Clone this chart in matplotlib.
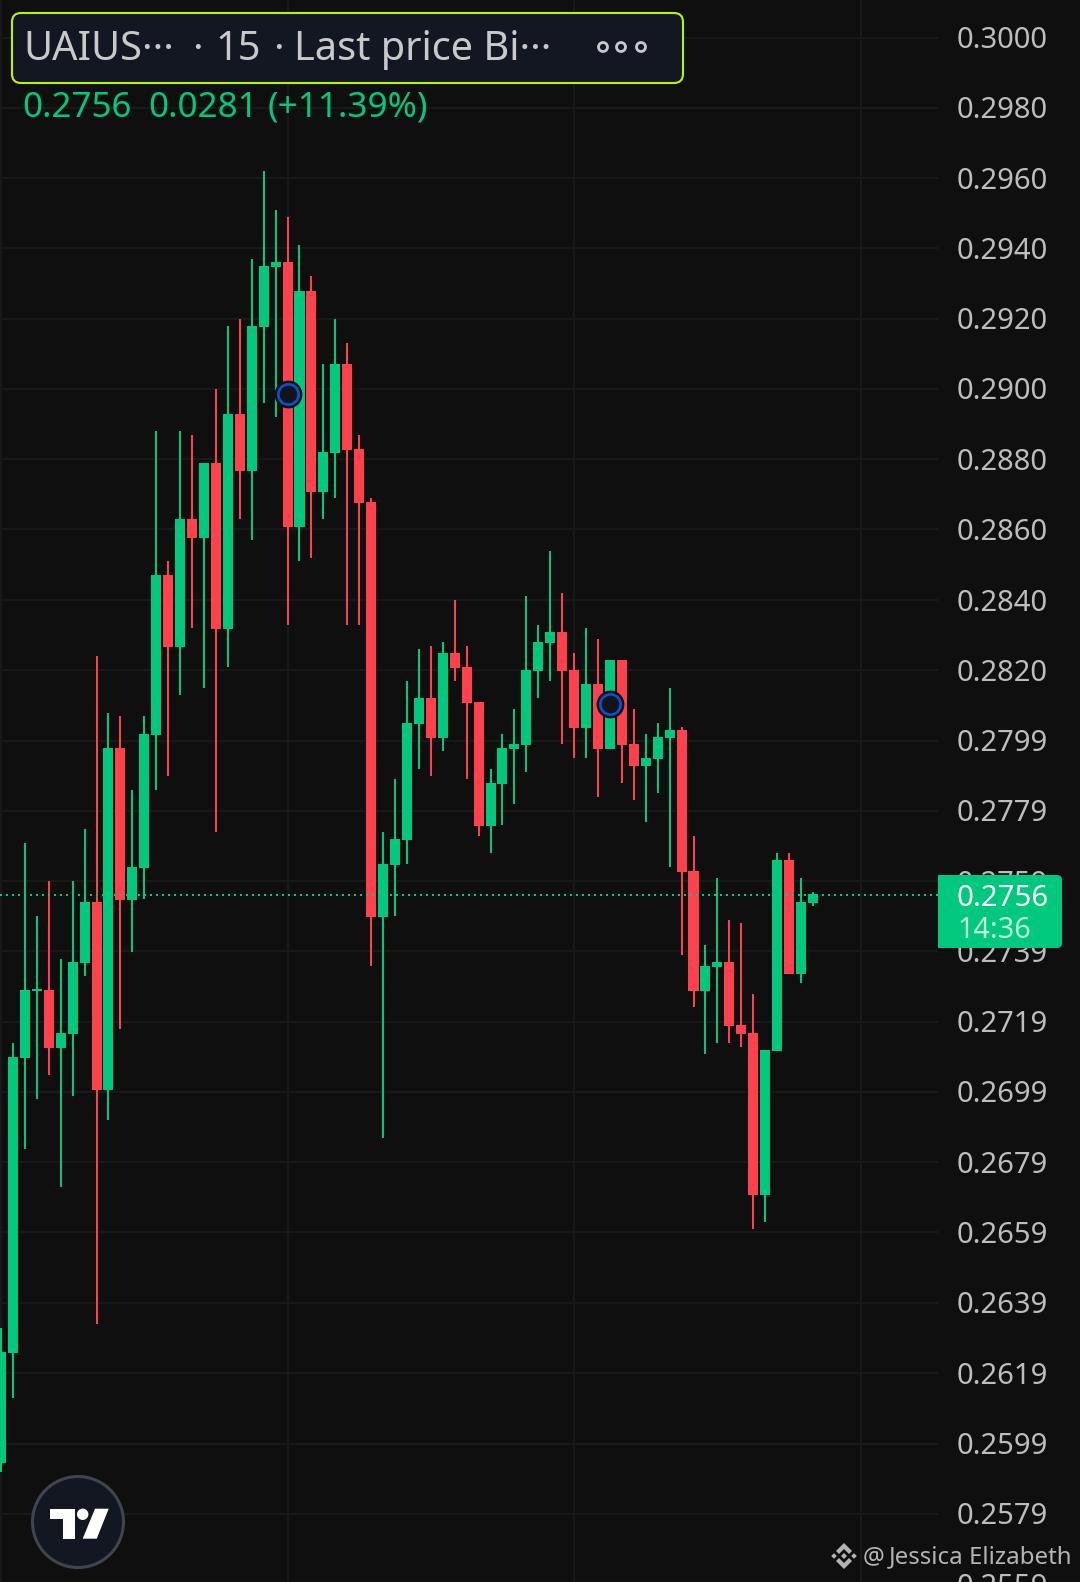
import matplotlib
matplotlib.use("Agg")
import matplotlib.pyplot as plt
import numpy as np
from matplotlib.patches import Circle, FancyBboxPatch, Polygon, Rectangle

plt.rcParams["font.family"] = ["Noto Sans", "DejaVu Sans"]

# candles, oldest first
opens = [0.25935, 0.26248, 0.27090, 0.27281, 0.27284, 0.27118, 0.27158, 0.27361, 0.27535, 0.26998,
         0.27974, 0.27540, 0.27632, 0.28011, 0.28467, 0.28262, 0.28627, 0.28573, 0.28787, 0.28313,
         0.28927, 0.28764, 0.29175, 0.29346, 0.29360, 0.28604, 0.29277, 0.28704, 0.28815, 0.29069,
         0.28827, 0.28676, 0.27492, 0.27640, 0.27711, 0.28042, 0.28116, 0.28002, 0.28245, 0.28205,
         0.28105, 0.27751, 0.27871, 0.27971, 0.27982, 0.28193, 0.28273, 0.28305, 0.28196, 0.28031,
         0.28156, 0.27971, 0.28225, 0.27985, 0.27922, 0.27943, 0.28002, 0.28025, 0.27623, 0.27281,
         0.27349, 0.27363, 0.27184, 0.27161, 0.26699, 0.27110, 0.27654, 0.27329, 0.27532]
highs = [0.26320, 0.27133, 0.27703, 0.27495, 0.27594, 0.27372, 0.27594, 0.27743, 0.28236, 0.28074,
         0.28065, 0.27854, 0.28065, 0.28878, 0.28507, 0.28878, 0.28867, 0.28787, 0.28998, 0.29177,
         0.29197, 0.29369, 0.29620, 0.29508, 0.29488, 0.29409, 0.29320, 0.29069, 0.29197, 0.29129,
         0.28867, 0.28687, 0.27734, 0.27885, 0.28165, 0.28256, 0.28265, 0.28276, 0.28396, 0.28265,
         0.28105, 0.27914, 0.28014, 0.28085, 0.28407, 0.28325, 0.28536, 0.28416, 0.28245, 0.28316,
         0.28285, 0.28225, 0.28225, 0.28085, 0.28014, 0.28045, 0.28145, 0.28034, 0.27723, 0.27412,
         0.27603, 0.27483, 0.27475, 0.27272, 0.27113, 0.27674, 0.27674, 0.27603, 0.27563]
lows = [0.25909, 0.26120, 0.26830, 0.26973, 0.27041, 0.26722, 0.26981, 0.27324, 0.26331, 0.26913,
        0.27172, 0.27392, 0.27543, 0.27854, 0.27894, 0.28125, 0.28316, 0.28145, 0.27734, 0.28205,
        0.28627, 0.28567, 0.28958, 0.28918, 0.28325, 0.28507, 0.28516, 0.28627, 0.28687, 0.28325,
        0.28325, 0.27352, 0.26862, 0.27495, 0.27643, 0.27914, 0.27894, 0.27965, 0.28165, 0.27885,
        0.27723, 0.27674, 0.27754, 0.27814, 0.27905, 0.28116, 0.28165, 0.27985, 0.27945, 0.27945,
        0.27834, 0.27971, 0.27874, 0.27826, 0.27763, 0.27846, 0.27634, 0.27383, 0.27235, 0.27101,
        0.27133, 0.27133, 0.27121, 0.26602, 0.26622, 0.27110, 0.27329, 0.27304, 0.27523]
closes = [0.26251, 0.27093, 0.27284, 0.27286, 0.27118, 0.27161, 0.27363, 0.27535, 0.26998, 0.27974,
          0.27540, 0.27634, 0.28014, 0.28467, 0.28262, 0.28627, 0.28573, 0.28787, 0.28313, 0.28927,
          0.28764, 0.29177, 0.29349, 0.29360, 0.28604, 0.29277, 0.28704, 0.28818, 0.29069, 0.28824,
          0.28673, 0.27492, 0.27643, 0.27714, 0.28045, 0.28116, 0.28002, 0.28245, 0.28202, 0.28102,
          0.27751, 0.27874, 0.27974, 0.27985, 0.28196, 0.28276, 0.28305, 0.28193, 0.28031, 0.28156,
          0.27971, 0.28225, 0.27982, 0.27922, 0.27945, 0.28005, 0.28025, 0.27620, 0.27281, 0.27352,
          0.27363, 0.27181, 0.27158, 0.26699, 0.27113, 0.27654, 0.27329, 0.27535, 0.27557]

price_ticks = [0.30000, 0.29800, 0.29599, 0.29399, 0.29198, 0.28998, 0.28797, 0.28597, 0.28396, 0.28196,
               0.27995, 0.27795, 0.27594, 0.27394, 0.27193, 0.26993, 0.26792, 0.26592, 0.26391, 0.26191,
               0.25990, 0.25790, 0.25589]
price_labels = ["0.3000", "0.2980", "0.2960", "0.2940", "0.2920", "0.2900", "0.2880", "0.2860", "0.2840", "0.2820",
                "0.2799", "0.2779", "0.2759", "0.2739", "0.2719", "0.2699", "0.2679", "0.2659", "0.2639", "0.2619",
                "0.2599", "0.2579", "0.2559"]
time_grid = [0, 24, 48, 72]
last_price = 0.27555
marker_idx = [24, 51]
marker_price = [0.28984, 0.28099]

BG = "#0f0f0f"
GRID = "#191919"
UP = "#00c87c"
DOWN = "#fe414d"
TEXT = "#bdbdbd"
PANEL = "#131722"

fig = plt.figure(figsize=(10.8, 15.82), dpi=100, facecolor=BG)
ax = fig.add_axes([0, 0, 1, 1], facecolor=BG)
ax.set_xlim(-0.084, 90.37)
ax.set_ylim(0.25595, 0.301072)
ax.axis("off")

opens = np.array(opens)
closes = np.array(closes)
x = np.arange(len(opens))
colors = [UP if c >= o else DOWN for o, c in zip(opens, closes)]

ax.hlines(price_ticks, -0.084, 78.5, color=GRID, lw=1.5, zorder=1)
ax.vlines(time_grid, 0.25595, 0.301072, color=GRID, lw=1.5, zorder=1)

ax.vlines(x, lows, highs, color=colors, lw=1.44, zorder=2)
ax.bar(x, np.abs(closes - opens), bottom=np.minimum(opens, closes), width=0.84, color=colors, linewidth=0, zorder=3)

ax.hlines(last_price, -0.084, 78.5, color=UP, lw=1.44, linestyle=(0, (1, 2)), zorder=4)

ax.plot(marker_idx, marker_price, "o", ms=19, mfc=BG, mec=BG, zorder=5)
ax.plot(marker_idx, marker_price, "o", ms=14.6, mfc="#10141b", mec="#0a50d8", mew=1.9, zorder=6)

for tick, label in zip(price_ticks, price_labels):
    ax.annotate(label, (0.8855, tick), xycoords=ax.get_yaxis_transform(), xytext=(0, -2.2),
                textcoords="offset points", color=TEXT, fontsize=21, va="center", ha="left",
                annotation_clip=False, zorder=7)

# overlay in screen pixels for the header, price tag, logo
ui = fig.add_axes([0, 0, 1, 1], facecolor="none")
ui.set_xlim(0, 1080)
ui.set_ylim(1582, 0)
ui.axis("off")

ui.add_patch(FancyBboxPatch((12, 13), 671, 70, boxstyle="round,pad=0,rounding_size=9",
                            fc=PANEL, ec="#b4f50a", lw=1.5))
head_color = "#c9c9c9"
ui.text(23.5, 50, "UAIUS···", color=head_color, fontsize=28.6, va="center")
ui.text(197, 50, "·", color=head_color, fontsize=28.6, va="center", ha="center")
ui.text(215, 50, "15", color=head_color, fontsize=28.6, va="center")
ui.text(278, 50, "·", color=head_color, fontsize=28.6, va="center", ha="center")
ui.text(294, 50, "Last price Bi···", color=head_color, fontsize=28.6, va="center")
for cx in [603, 621, 641]:
    ui.add_patch(Circle((cx, 47), 4.5, fc="none", ec=head_color, lw=2))

ui.text(22, 108, "0.2756", color=UP, fontsize=25.2, va="center")
ui.text(148, 108, "0.0281", color=UP, fontsize=25.2, va="center")
ui.text(268, 108, "(+11.39%)", color=UP, fontsize=25.3, va="center")

# price tag
ui.add_patch(FancyBboxPatch((938, 875), 124, 73, boxstyle="round,pad=0,rounding_size=5", fc=UP, ec="none"))
ui.add_patch(Rectangle((938, 875), 30, 73, fc=UP, ec="none"))
ui.text(957, 899, "0.2756", color="white", fontsize=21.2, va="center")
ui.text(957, 931, "14:36", color="#bdf2de", fontsize=20.7, va="center")

# tradingview badge
ui.add_patch(Circle((78, 1522), 45.5, fc=PANEL, ec="#40444d", lw=2.2))
ui.add_patch(Polygon([(50, 1508.7), (75, 1508.7), (75, 1538.7), (63.3, 1538.7), (63.3, 1519.3), (50, 1519.3)],
                     fc="white", ec="none"))
ui.add_patch(Circle((82.7, 1514.3), 5.7, fc="white", ec="none"))
ui.add_patch(Polygon([(95, 1508.7), (108.7, 1508.7), (96.7, 1538.7), (82.7, 1538.7)], fc="white", ec="none"))

# watermark
wm = "#b4b4b4"
for cx, cy, r in [(844, 1556, 3), (834, 1556, 2.8), (854, 1556, 2.8)]:
    ui.add_patch(Polygon([(cx - r, cy), (cx, cy - r), (cx + r, cy), (cx, cy + r)], fc=wm, ec="none"))
ui.add_patch(Polygon([(844, 1543), (852, 1551), (849, 1554), (844, 1549), (839, 1554), (836, 1551)], fc=wm, ec="none"))
ui.add_patch(Polygon([(844, 1569), (852, 1561), (849, 1558), (844, 1563), (839, 1558), (836, 1561)], fc=wm, ec="none"))
ui.text(863, 1557, "@", color=wm, fontsize=17.5, va="center")
ui.text(889, 1557, "Jessica Elizabeth", color=wm, fontsize=17.3, va="center")

fig.savefig("out.png", dpi=100, facecolor=BG)
